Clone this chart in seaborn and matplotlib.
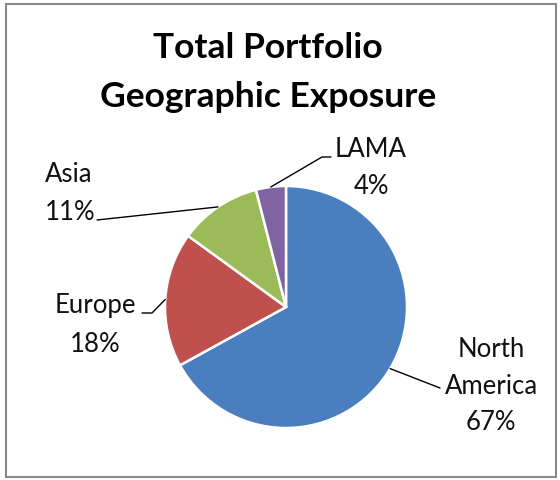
import matplotlib
matplotlib.use("Agg")
import matplotlib.pyplot as plt
from matplotlib.patches import Rectangle
import seaborn as sns
import numpy as np

# Portfolio exposure by region
regions = ["North America", "Europe", "Asia", "LAMA"]
shares = [67, 18, 11, 4]
colors = ["#4A7EBF", "#C0504D", "#9BBB59", "#8064A2"]
label_texts = ["North\nAmerica\n67%", "Europe\n18%", "Asia\n11%", "LAMA\n4%"]
title = "Total Portfolio\nGeographic Exposure"

sns.set_theme(style="white")
plt.rcParams["font.family"] = ["Lato", "DejaVu Sans"]

W, H = 560, 480
fig = plt.figure(figsize=(W / 100, H / 100), dpi=100)
fig.patch.set_facecolor("white")

# pie centre and radius in pixels
cx, cy, r = 286, 307, 121
ax = fig.add_axes([(cx - r) / W, (H - cy - r) / H, 2 * r / W, 2 * r / H])
ax.axis("off")

wedges, _ = ax.pie(shares, colors=colors, startangle=90, counterclock=False,
                   radius=1.0, wedgeprops=dict(edgecolor="white", linewidth=1.8))
ax.set_xlim(-1, 1)
ax.set_ylim(-1, 1)


def to_data(px, py):
    return ((px - cx) / r, (cy - py) / r)


# label layout: text centre, alignment, line spacing, leader path (pixels)
layout = {
    "North America": dict(pos=(491, 386), ha="center", ls=1.58, path=[(440, 388)]),
    "Europe": dict(pos=(95, 325), ha="center", ls=1.65, path=[(152, 313), (142, 313)]),
    "Asia": dict(pos=(45, 193), ha="left", ls=1.65, path=[(97, 220)]),
    "LAMA": dict(pos=(371, 168), ha="center", ls=1.6, path=[(322, 157), (331, 157)]),
}

for w, name, txt in zip(wedges, regions, label_texts):
    mid = np.deg2rad((w.theta1 + w.theta2) / 2)
    start = (np.cos(mid), np.sin(mid))
    lay = layout[name]
    pts = [start] + [to_data(*p) for p in lay["path"]]
    xs, ys = zip(*pts)
    ax.plot(xs, ys, color="black", lw=1.0, clip_on=False, zorder=3)
    tx, ty = to_data(*lay["pos"])
    ax.text(tx, ty, txt, ha=lay["ha"], va="center", fontsize=18.5,
            linespacing=lay["ls"], color="#111111", clip_on=False, zorder=4)

fig.text(268 / W, 1 - 72.5 / H, title, ha="center", va="center",
         fontsize=25.5, fontweight="bold", linespacing=1.66, color="black")

# chart frame
fig.patches.append(Rectangle((6 / W, 3 / H), 550 / W, 473 / H,
                             transform=fig.transFigure, fill=False,
                             edgecolor="#8a8a8a", linewidth=1.5))

fig.savefig("out.png", dpi=100, facecolor="white")
